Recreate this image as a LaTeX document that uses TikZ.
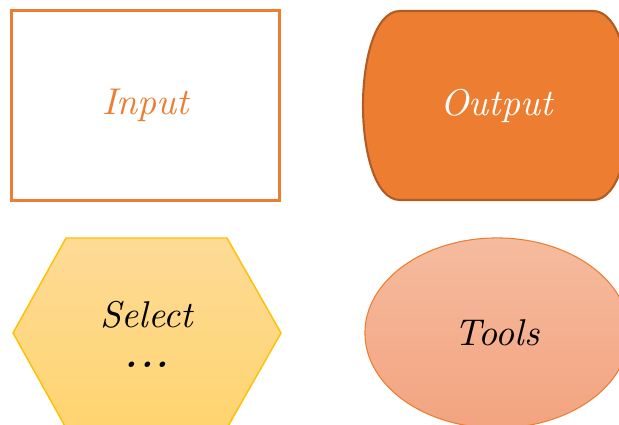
\documentclass[tikz,border=0pt]{standalone}
\usepackage{tikz}
\usetikzlibrary{shapes, positioning}
\definecolor{cOrange}{RGB}{237,125,49}
\definecolor{cDark}{RGB}{176,92,36}
\definecolor{cGold}{RGB}{255,192,0}
\definecolor{cGoldTop}{RGB}{253,219,150}
\definecolor{cGoldBot}{RGB}{255,212,112}
\definecolor{cPeachTop}{RGB}{245,187,158}
\definecolor{cPeachBot}{RGB}{243,164,128}

\begin{document}
\begin{tikzpicture}[x=0.01cm, y=-0.01cm,
            tx/.style={font=\fontsize{10.6}{11.4}\selectfont\itshape, align=center, inner sep=0pt},
            io/.style={rectangle, draw=cOrange, line width=0.85pt, minimum width=2.67cm, minimum height=1.89cm, inner sep=0pt}]
            \useasboundingbox (0,0) rectangle (619,425);
            \clip (0,0) rectangle (619,425);
            \fill[white] (0,0) rectangle (619,425);
            % input box
            \node[io] (in) at (145.5,105.5) {};
            \node[tx, text=cOrange] (inT) at (in.center) {Input};
            % output shape
            \draw[fill=cOrange, draw=cDark, line width=0.6pt]
                (400,11) -- (593,11) .. controls (618,11) and (630,60) .. (630,105.5)
                .. controls (630,151) and (618,200) .. (593,200) -- (400,200)
                .. controls (375,200) and (363,151) .. (363,105.5)
                .. controls (363,60) and (375,11) .. (400,11);
            \node[tx, text=white] (outT) at (496.5,105.5) {Output};
            % select hexagon
            \draw[top color=cGoldTop, bottom color=cGoldBot, draw=cGold, line width=0.4pt]
                (13,333) -- (66,238) -- (227,238) -- (281,333) -- (227,428) -- (66,428) -- cycle;
            \node[tx] (sel) at (147,334) {Select\\\textbf{.\kern0.6pt.\kern0.6pt.}};
            % tools ellipse
            \node[ellipse, draw=cOrange, line width=0.3pt, top color=cPeachTop, bottom color=cPeachBot,
                  minimum width=2.64cm, minimum height=1.90cm, inner sep=0pt] (tools) at (497,333) {};
            \node[tx] (toolsT) at (tools.center) {Tools};
\end{tikzpicture}
\end{document}
